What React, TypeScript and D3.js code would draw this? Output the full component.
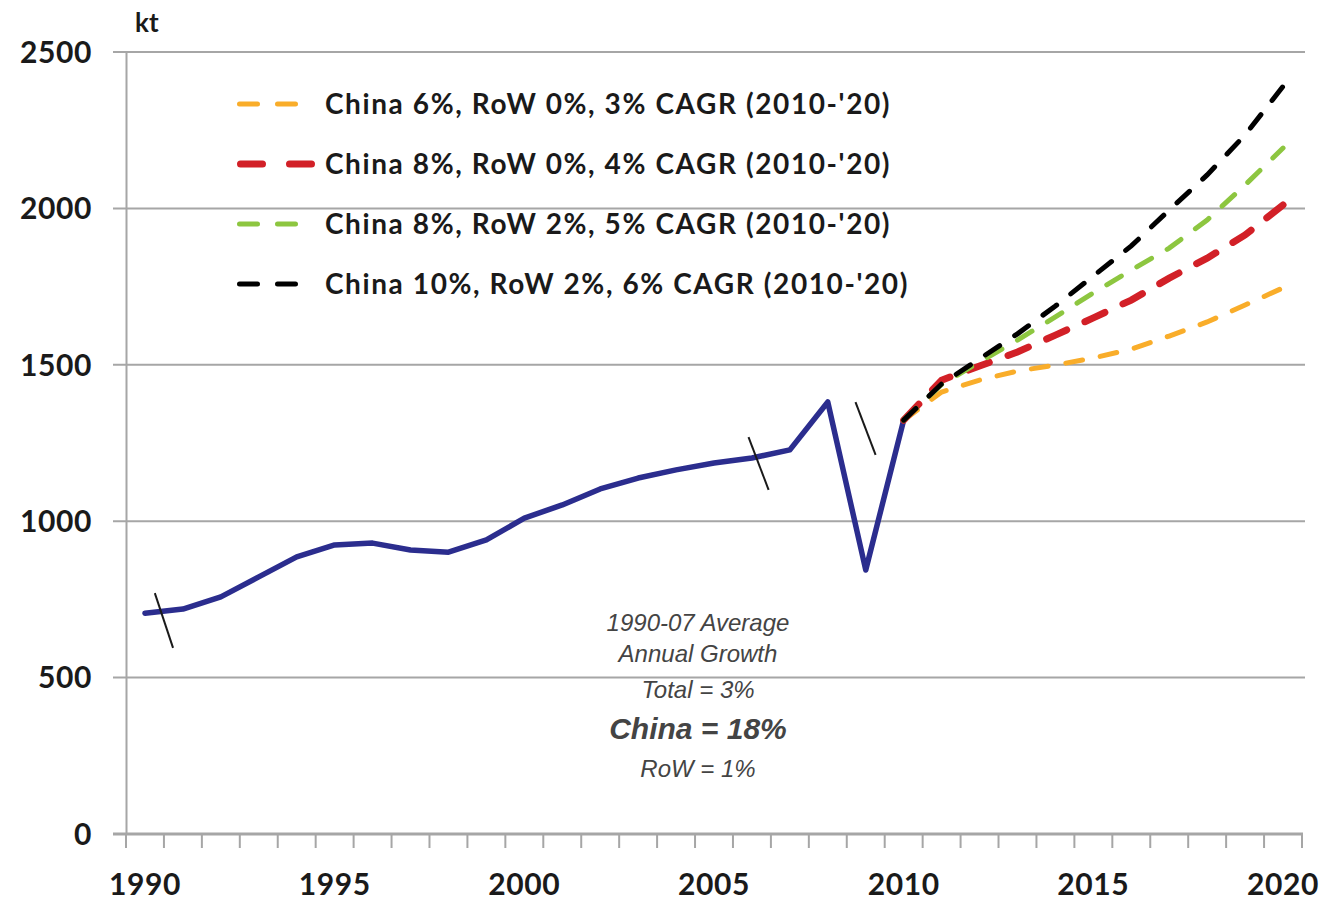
import { useEffect, useRef } from "react";
import * as d3 from "d3";

// Historical demand, kt
const histYears = [1990, 1991, 1992, 1993, 1994, 1995, 1996, 1997, 1998, 1999, 2000, 2001, 2002, 2003, 2004, 2005, 2006, 2007, 2008, 2009, 2010];
const histValues = [706, 719, 758, 822, 886, 924, 930, 908, 901, 940, 1010, 1052, 1103, 1138, 1164, 1186, 1202, 1228, 1381, 844, 1323];

// Projections 2010-2020
const projYears = [2010, 2011, 2012, 2013, 2014, 2015, 2016, 2017, 2018, 2019, 2020];
const orangeValues = [1323, 1413, 1451, 1480, 1499, 1522, 1550, 1592, 1637, 1691, 1746];
const redValues = [1323, 1451, 1496, 1541, 1595, 1650, 1707, 1777, 1841, 1915, 2011];
const greenValues = [1323, 1437, 1509, 1579, 1653, 1730, 1803, 1873, 1963, 2075, 2193];
const blackValues = [1323, 1439, 1519, 1599, 1688, 1784, 1880, 1995, 2107, 2235, 2390];

const seriesLabels = [
  "China 6%, RoW 0%, 3% CAGR (2010-'20)",
  "China 8%, RoW 0%, 4% CAGR (2010-'20)",
  "China 8%, RoW 2%, 5% CAGR (2010-'20)",
  "China 10%, RoW 2%, 6% CAGR (2010-'20)",
];

const allYears = d3.range(1990, 2021);
const xTickLabels = [1990, 1995, 2000, 2005, 2010, 2015, 2020];
const yTicks = [0, 500, 1000, 1500, 2000, 2500];

// axis-break marks: [year0, value0, year1, value1]
const breakMarks = [
  [1990.26, 770, 1990.74, 595],
  [2005.91, 1269, 2006.44, 1100],
  [2008.73, 1381, 2009.26, 1212],
];

const noteLines = ["1990-07 Average", "Annual Growth", "Total = 3%", "China = 18%", "RoW = 1%"];

export default function App() {
  const svgRef = useRef(null);
  const width = 1324;
  const height = 900;

  useEffect(() => {
    const svg = d3.select(svgRef.current);
    svg.selectAll("*").remove();

    const font = "Lato, 'Open Sans', sans-serif";
    const gridColor = "#a6a6a6";

    const xBand = d3.scaleBand<number>().domain(allYears).range([126, 1302]).paddingInner(0).paddingOuter(0);
    const bw = xBand.bandwidth();
    const x = (yr: number) => (xBand(Math.floor(yr)) as number) + bw / 2 + (yr - Math.floor(yr)) * bw;
    const y = d3.scaleLinear().domain([0, 2500]).range([834, 52]);

    // gridlines
    svg.append("g")
      .selectAll("line")
      .data(yTicks.filter(d => d > 0))
      .join("line")
      .attr("x1", 113)
      .attr("x2", 1305)
      .attr("y1", d => y(d))
      .attr("y2", d => y(d))
      .attr("stroke", gridColor)
      .attr("stroke-width", 2);

    // y axis line
    svg.append("line")
      .attr("x1", 126.5).attr("x2", 126.5)
      .attr("y1", y(2500)).attr("y2", y(0))
      .attr("stroke", gridColor).attr("stroke-width", 2);

    // x axis
    svg.append("line")
      .attr("x1", 113).attr("x2", 1303)
      .attr("y1", y(0)).attr("y2", y(0))
      .attr("stroke", gridColor).attr("stroke-width", 3);

    svg.append("g")
      .selectAll("line")
      .data(d3.range(0, allYears.length + 1))
      .join("line")
      .attr("x1", i => 126 + i * bw)
      .attr("x2", i => 126 + i * bw)
      .attr("y1", y(0))
      .attr("y2", y(0) + 14)
      .attr("stroke", gridColor)
      .attr("stroke-width", 2);

    // y labels
    svg.append("g")
      .selectAll("text")
      .data(yTicks)
      .join("text")
      .attr("x", 92)
      .attr("y", d => y(d))
      .attr("dy", "0.36em")
      .attr("text-anchor", "end")
      .attr("font-family", font)
      .attr("font-weight", 700)
      .attr("font-size", 30)
      .attr("letter-spacing", 0.6)
      .attr("fill", "#1a1a1a")
      .text(d => d);

    // x labels
    svg.append("g")
      .selectAll("text")
      .data(xTickLabels)
      .join("text")
      .attr("x", d => x(d))
      .attr("y", 895)
      .attr("text-anchor", "middle")
      .attr("font-family", font)
      .attr("font-weight", 700)
      .attr("font-size", 30)
      .attr("letter-spacing", 0.6)
      .attr("fill", "#1a1a1a")
      .text(d => d);

    svg.append("text")
      .attr("x", 135).attr("y", 32)
      .attr("font-family", font).attr("font-weight", 700).attr("font-size", 26)
      .attr("fill", "#1a1a1a")
      .text("kt");

    // historical line
    const line = d3.line<[number, number]>().x(d => x(d[0])).y(d => y(d[1]));
    svg.append("path")
      .attr("d", line(histYears.map((yr, i) => [yr, histValues[i]])))
      .attr("fill", "none")
      .attr("stroke", "#2b2d8e")
      .attr("stroke-width", 5.5)
      .attr("stroke-linejoin", "round")
      .attr("stroke-linecap", "round");

    const series = [
      { values: orangeValues, color: "#f9ad2a", width: 5, dash: "17,18", legDash: "18,20" },
      { values: redValues, color: "#d22027", width: 7, dash: "22,20", legDash: "22,27" },
      { values: greenValues, color: "#8dc640", width: 5, dash: "17,18", legDash: "18,20" },
      { values: blackValues, color: "#000000", width: 5, dash: "17,18", legDash: "18,20" },
    ];

    series.forEach(s => {
      svg.append("path")
        .attr("d", line(projYears.map((yr, i) => [yr, s.values[i]])))
        .attr("fill", "none")
        .attr("stroke", s.color)
        .attr("stroke-width", s.width)
        .attr("stroke-dasharray", s.dash)
        .attr("stroke-linecap", "round");
    });

    // break marks
    svg.append("g")
      .selectAll("line")
      .data(breakMarks)
      .join("line")
      .attr("x1", d => x(d[0]))
      .attr("y1", d => y(d[1]))
      .attr("x2", d => x(d[2]))
      .attr("y2", d => y(d[3]))
      .attr("stroke", "#1a1a1a")
      .attr("stroke-width", 2);

    // legend
    const legend = svg.append("g");
    series.forEach((s, i) => {
      const ly = 104 + i * 60;
      legend.append("line")
        .attr("x1", 237 + s.width / 2).attr("x2", i === 1 ? 318 - s.width / 2 : 300 - s.width / 2)
        .attr("y1", ly).attr("y2", ly)
        .attr("stroke", s.color)
        .attr("stroke-width", s.width)
        .attr("stroke-dasharray", s.legDash)
        .attr("stroke-linecap", "round");
      legend.append("text")
        .attr("x", 325).attr("y", ly)
        .attr("dy", "0.36em")
        .attr("font-family", font)
        .attr("font-weight", 700)
        .attr("font-size", 28)
        .attr("letter-spacing", 1.6)
        .attr("fill", "#1a1a1a")
        .text(seriesLabels[i]);
    });

    // note
    const note = svg.append("g").attr("font-family", "'Liberation Sans', Arial, sans-serif").attr("font-style", "italic").attr("fill", "#444");
    const noteY = [631, 662, 698, 739, 777];
    noteLines.forEach((t, i) => {
      note.append("text")
        .attr("x", 698).attr("y", noteY[i])
        .attr("text-anchor", "middle")
        .attr("font-size", i === 3 ? 30 : 24)
        .attr("font-weight", i === 3 ? 700 : 400)
        .text(t);
    });
  }, []);

  return (
    <div style={{ position: "absolute", left: 0, top: 0 }}>
      <svg ref={svgRef} width={width} height={height} style={{ display: "block", background: "#fff" }} />
    </div>
  );
}
